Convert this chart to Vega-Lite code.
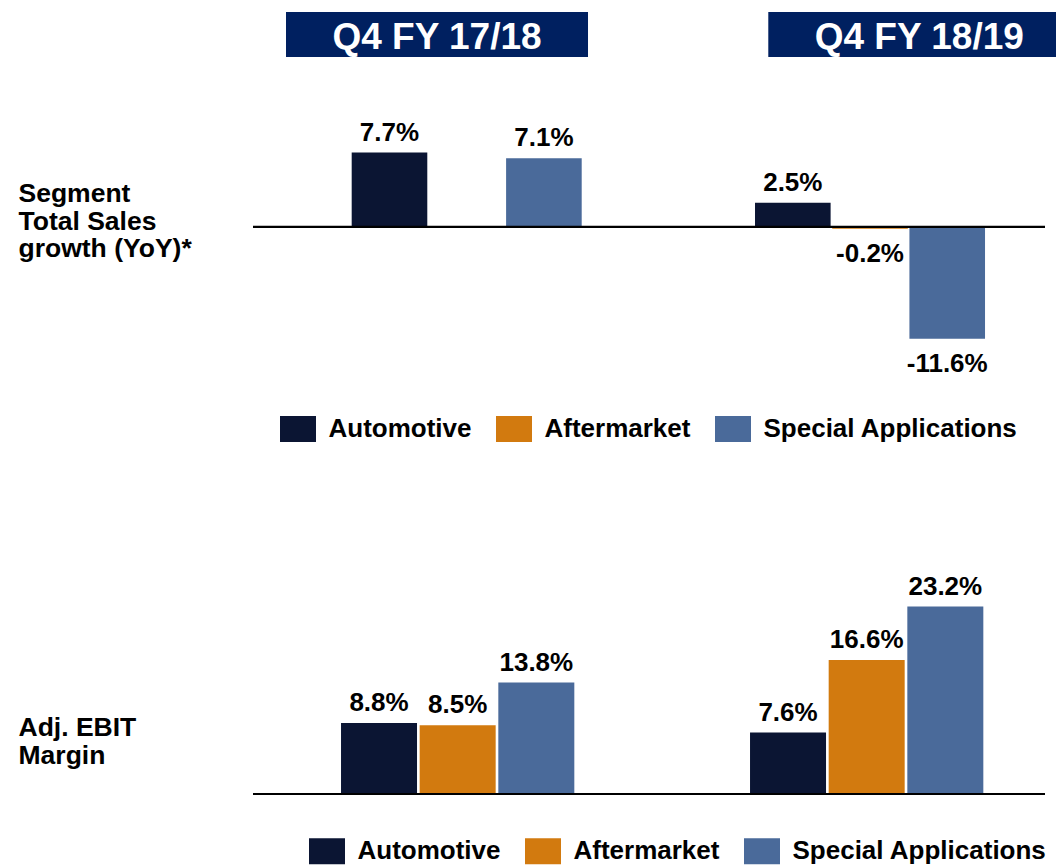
{
  "$schema": "https://vega.github.io/schema/vega-lite/v6.json",
  "padding": {"left": 18, "top": 12, "right": 0, "bottom": 0},
  "autosize": {"type": "pad"},
  "background": "white",
  "bounds": "flush",
  "spacing": 54,
  "config": {
    "view": {"stroke": null},
    "font": "Liberation Sans",
    "locale": {"number": {"decimal": ".", "thousands": ",", "grouping": [3], "currency": ["$", ""], "minus": "-"}}
  },
  "datasets": {
    "headers": [{"period": "Q4 FY 17/18"}, {"period": "Q4 FY 18/19"}],
    "growth": [
      {"period": "Q4 FY 17/18", "segment": "Automotive", "value": 0.077},
      {"period": "Q4 FY 17/18", "segment": "Special Applications", "value": 0.071},
      {"period": "Q4 FY 18/19", "segment": "Automotive", "value": 0.025},
      {"period": "Q4 FY 18/19", "segment": "Aftermarket", "value": -0.002},
      {"period": "Q4 FY 18/19", "segment": "Special Applications", "value": -0.116}
    ],
    "margin": [
      {"period": "Q4 FY 17/18", "segment": "Automotive", "value": 0.088},
      {"period": "Q4 FY 17/18", "segment": "Aftermarket", "value": 0.085},
      {"period": "Q4 FY 17/18", "segment": "Special Applications", "value": 0.138},
      {"period": "Q4 FY 18/19", "segment": "Automotive", "value": 0.076},
      {"period": "Q4 FY 18/19", "segment": "Aftermarket", "value": 0.166},
      {"period": "Q4 FY 18/19", "segment": "Special Applications", "value": 0.232}
    ],
    "baseline": [{"value": 0}]
  },
  "resolve": {
    "scale": {"x": "independent", "y": "independent", "color": "independent", "xOffset": "independent"},
    "legend": {"color": "independent"}
  },
  "vconcat": [
    {
      "width": 803,
      "height": 45,
      "data": {"name": "headers"},
      "encoding": {
        "x": {"field": "period", "type": "nominal", "axis": null, "sort": null,
              "scale": {"range": [33, 817.3], "paddingInner": 0.3738, "paddingOuter": 0}}
      },
      "layer": [
        {"mark": {"type": "rect", "color": "#002060", "clip": true}},
        {"mark": {"type": "text", "color": "white", "fontSize": 37, "fontWeight": "bold", "baseline": "alphabetic", "dy": 14},
         "encoding": {"text": {"field": "period", "type": "nominal"}}}
      ]
    },
    {
      "width": 792,
      "height": 251,
      "data": {"name": "growth"},
      "encoding": {
        "y": {"field": "value", "type": "quantitative",
              "scale": {"domain": [-0.14, 0.12], "nice": false, "zero": false},
              "axis": {"title": ["Segment", "Total Sales", "growth (YoY)*"], "labels": false, "ticks": false, "domain": false, "grid": false,
                       "titleAngle": 0, "titleAlign": "left", "titleBaseline": "alphabetic", "titleX": -235, "titleY": 90.7,
                       "titleFontSize": 26.5, "titleFontWeight": "bold", "titleColor": "black", "titleLineHeight": 27.5}}
      },
      "layer": [
        {
          "mark": {"type": "bar"},
          "encoding": {
            "x": {"field": "period", "type": "nominal", "axis": null, "sort": null,
                  "scale": {"paddingInner": 0.4297, "paddingOuter": 0.1967, "align": 0.622}},
            "xOffset": {"field": "segment", "type": "nominal", "sort": null,
                        "scale": {"domain": ["Automotive", "Aftermarket", "Special Applications"], "paddingInner": 0.0207, "paddingOuter": 0}},
            "color": {"field": "segment", "type": "nominal",
                      "scale": {"domain": ["Automotive", "Aftermarket", "Special Applications"], "range": ["#0b1533", "#d27a0f", "#4a6a9a"]},
                      "legend": {"orient": "none", "legendX": 27, "legendY": 300, "direction": "horizontal", "columns": 3, "title": null,
                                 "symbolType": "M-1,-0.7222H1V0.7222H-1Z", "symbolSize": 1296, "symbolStrokeWidth": 0, "symbolOpacity": 1,
                                 "labelFontSize": 26, "labelFontWeight": "bold", "labelColor": "black", "labelOffset": 12.5,
                                 "columnPadding": 24, "padding": 0, "labelLimit": 400}}
          }
        },
        {
          "transform": [{"filter": "datum.value >= 0"}],
          "mark": {"type": "text", "fontSize": 26, "fontWeight": "bold", "color": "black", "baseline": "alphabetic", "dy": -12},
          "encoding": {
            "x": {"field": "period", "type": "nominal", "sort": null},
            "xOffset": {"field": "segment", "type": "nominal", "sort": null},
            "text": {"field": "value", "type": "quantitative", "format": ".1%"}
          }
        },
        {
          "transform": [{"filter": "datum.value < 0"}],
          "mark": {"type": "text", "fontSize": 26, "fontWeight": "bold", "color": "black", "baseline": "alphabetic", "dy": 33},
          "encoding": {
            "x": {"field": "period", "type": "nominal", "sort": null},
            "xOffset": {"field": "segment", "type": "nominal", "sort": null},
            "text": {"field": "value", "type": "quantitative", "format": ".1%"}
          }
        },
        {
          "data": {"name": "baseline"},
          "mark": {"type": "rule", "color": "black", "strokeWidth": 2.2},
          "encoding": {}
        }
      ]
    },
    {
      "width": 792,
      "height": 378,
      "data": {"name": "margin"},
      "encoding": {
        "y": {"field": "value", "type": "quantitative",
              "scale": {"domain": [0, 0.468], "nice": false, "zero": false},
              "axis": {"title": ["Adj. EBIT", "Margin"], "labels": false, "ticks": false, "domain": false, "grid": false,
                       "titleAngle": 0, "titleAlign": "left", "titleBaseline": "alphabetic", "titleX": -235, "titleY": 319,
                       "titleFontSize": 26.5, "titleFontWeight": "bold", "titleColor": "black", "titleLineHeight": 28}}
      },
      "layer": [
        {
          "mark": {"type": "bar"},
          "encoding": {
            "x": {"field": "period", "type": "nominal", "axis": null, "sort": null,
                  "scale": {"paddingInner": 0.4296, "paddingOuter": 0.183, "align": 0.588}},
            "xOffset": {"field": "segment", "type": "nominal", "sort": null,
                        "scale": {"domain": ["Automotive", "Aftermarket", "Special Applications"], "paddingInner": 0.0337, "paddingOuter": 0}},
            "color": {"field": "segment", "type": "nominal",
                      "scale": {"domain": ["Automotive", "Aftermarket", "Special Applications"], "range": ["#0b1533", "#d27a0f", "#4a6a9a"]},
                      "legend": {"orient": "none", "legendX": 56, "legendY": 417.3, "direction": "horizontal", "columns": 3, "title": null,
                                 "symbolType": "M-1,-0.7222H1V0.7222H-1Z", "symbolSize": 1296, "symbolStrokeWidth": 0, "symbolOpacity": 1,
                                 "labelFontSize": 26, "labelFontWeight": "bold", "labelColor": "black", "labelOffset": 12.5,
                                 "columnPadding": 24, "padding": 0, "labelLimit": 400}}
          }
        },
        {
          "mark": {"type": "text", "fontSize": 26, "fontWeight": "bold", "color": "black", "baseline": "alphabetic", "dy": -12},
          "encoding": {
            "x": {"field": "period", "type": "nominal", "sort": null},
            "xOffset": {"field": "segment", "type": "nominal", "sort": null},
            "text": {"field": "value", "type": "quantitative", "format": ".1%"}
          }
        },
        {
          "data": {"name": "baseline"},
          "mark": {"type": "rule", "color": "black", "strokeWidth": 2.2},
          "encoding": {}
        }
      ]
    }
  ]
}
